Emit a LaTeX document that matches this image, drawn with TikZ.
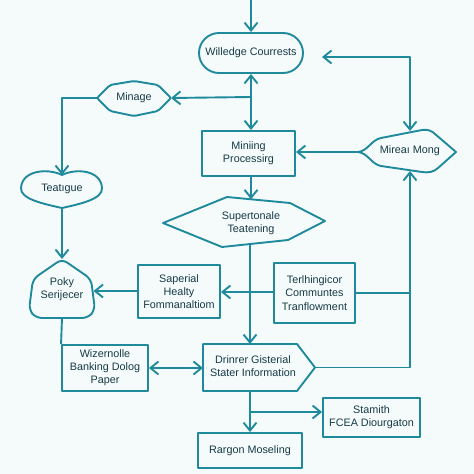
\documentclass[tikz,border=0pt]{standalone}
\usepackage{fontspec}
\setmainfont{Liberation Sans}
\usetikzlibrary{arrows.meta}
\definecolor{tealline}{RGB}{30,138,155}
\definecolor{txtcol}{RGB}{22,58,70}
\definecolor{bgcol}{RGB}{245,251,251}
\begin{document}
\begin{tikzpicture}[x=1pt,y=-1pt,
  line/.style={draw=tealline,line width=1.9pt,line join=round},
  barb/.tip={Straight Barb[length=8pt,width=13pt]},
  arr/.style={line,-barb},
  darr/.style={line,barb-barb},
  txt/.style={text=txtcol,font=\fontsize{10.8}{13.2}\selectfont,align=center,inner sep=0pt},
  box/.style={line,txt}
]
\fill[bgcol] (0,0) rectangle (474,474);
\useasboundingbox (0,0) rectangle (474,474);

% rectangular nodes
\node[box,minimum width=104pt,minimum height=40pt,rounded corners=20pt] (will) at (251,53) {Willedge Courrests};
\node[box,minimum width=93pt,minimum height=45pt] (mine) at (248.5,153.5) {Miniing\\Processirg};
\node[box,minimum width=82pt,minimum height=53pt] (sap) at (179,291.5) {Saperial\\Healty\\Fommanaltiom};
\node[box,minimum width=81pt,minimum height=60pt] (ter) at (314.5,293) {Terlhingicor\\Communtes\\Tranflowment};
\node[box,minimum width=86pt,minimum height=46pt] (wiz) at (105,368) {Wizernolle\\Banking Dolog\\Paper};
\node[box,minimum width=97pt,minimum height=39pt] (sta) at (371.5,417.5) {Stamith\\FCEA Diourgaton};
\node[box,minimum width=104pt,minimum height=35pt] (rar) at (250,450.5) {Rargon Moseling};

% Minage
\draw[line,rounded corners=2pt] (97,98) -- (110,85) -- (134,81) -- (158,85) -- (171,98) -- (158,111) -- (134,116) -- (110,111) -- cycle;
\node[txt] (minage) at (134,98) {Minage};
\coordinate (minageL) at (97,98);
\coordinate (minageR) at (171,98);

% Teatigue
\draw[line] (62,175) .. controls (76,168) and (101,170) .. (102,188) .. controls (103,199) and (80,204) .. (62,208) .. controls (44,204) and (20,199) .. (21,188) .. controls (22,170) and (48,168) .. (62,175) -- cycle;
\node[txt] (teat) at (62,189) {Teatıgue};
\coordinate (teaT) at (62,175);
\coordinate (teaB) at (62,208);

% Poky Serijecer
\draw[line,rounded corners=6pt] (62,259) -- (91,279) -- (95,310) -- (88,318) -- (36,318) -- (29,310) -- (33,279) -- cycle;
\node[txt] (poky) at (62,289) {Poky\\Serijecer};
\coordinate (pokT) at (62,259);
\coordinate (pokB) at (62,318);
\coordinate (pokR) at (93.5,291);

% Mireai Mong
\draw[line] (358,152) .. controls (368,151) and (371,140) .. (381,138) -- (422,130) .. controls (428,129) and (432,131) .. (435,134) -- (456,152) -- (438,168) .. controls (434,172) and (428,173) .. (422,172) -- (381,166) .. controls (371,164) and (368,153) .. (358,152) -- cycle;
\node[txt] (mir) at (410,151) {Mireaı Mong};
\coordinate (mirT) at (410,131);
\coordinate (mirB) at (410,171);
\coordinate (mirL) at (358,152);

% Supertonale
\draw[line] (163,223) -- (227,197) -- (290,203) -- (325,221) -- (288,240) -- (222,247) -- cycle;
\node[txt] (sup) at (251,223) {Supertonale\\Teatening};
\coordinate (supT) at (251,199.3);
\coordinate (supB) at (250,244);

% Drinrer
\draw[line] (203,344) -- (297,344) -- (315,367.5) -- (297,391) -- (203,391) -- cycle;
\node[txt] (dr) at (253,366) {Drinrer Gisterial\\Stater Information};
\coordinate (drT) at (250,344);
\coordinate (drB) at (250,391);
\coordinate (drL) at (203,368);
\coordinate (drR) at (315,367.5);

% helper coordinates
\coordinate (top) at (251,0);
\coordinate (j1) at (251,97);
\coordinate (c1) at (410,57);
\coordinate (wtip) at (322,57);
\coordinate (k1) at (62,98);
\coordinate (j2) at (250,292);
\coordinate (j3) at (250,412);
\coordinate (c2) at (410,367.5);

% connectors
\draw[arr] (top) -- (will.north);
\draw[darr] (will.south) -- (will.south |- mine.north);
\draw[arr] (j1) -- (minageR);
\draw[darr] (wtip) -- (c1) -- (mirT);
\draw[arr] (mirL) -- (mirL -| mine.east);
\draw[arr] (supT |- mine.south) -- (supT);
\draw[arr] (supB) -- (drT);
\draw[arr] (j2) -- (sap.east |- j2);
\draw[line] (j2) -- (ter.west |- j2);
\draw[arr] (sap.west |- pokR) -- (pokR);
\draw[arr] (minageL) -- (k1) -- (teaT);
\draw[arr] (teaB) -- (pokT);
\draw[line] (pokB) -- (wiz.north west);
\draw[darr] (wiz.east) -- (drL);
\draw[arr] (drR) -- (c2) -- (mirB);
\draw[line] (ter.east) -- (ter.east -| mirB);
\draw[arr] (drB) -- (rar.north);
\draw[arr] (j3) -- (sta.west |- j3);
\end{tikzpicture}
\end{document}
